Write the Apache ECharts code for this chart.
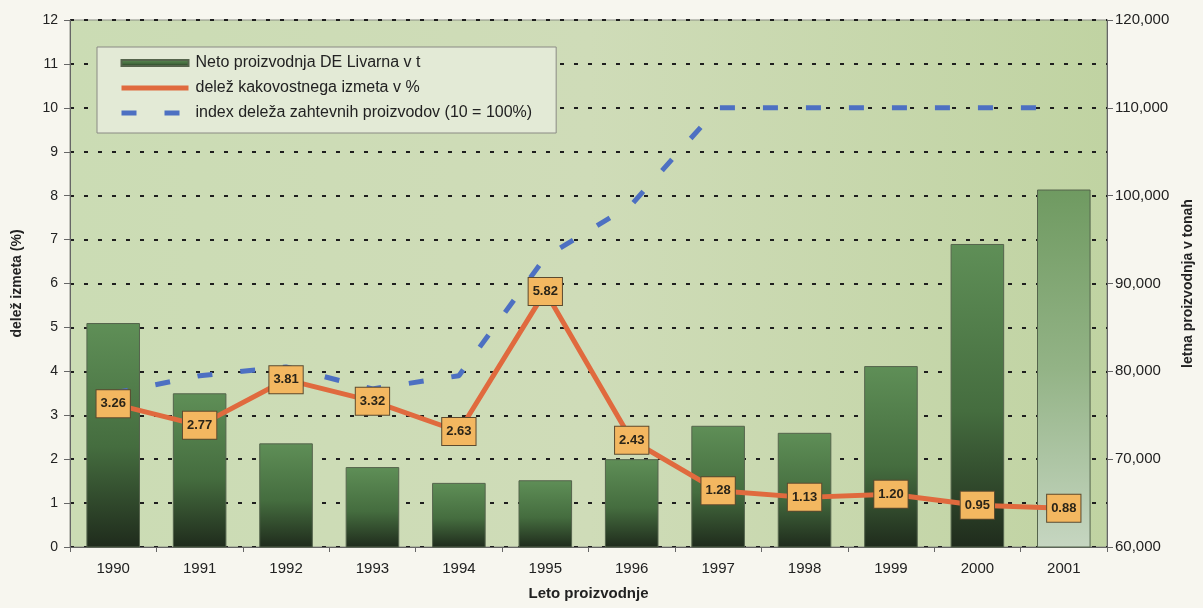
<!DOCTYPE html>
<html>
<head>
<meta charset="utf-8">
<script src="https://cdn.jsdelivr.net/npm/echarts@6/dist/echarts.min.js"></script>
<style>
html,body{margin:0;padding:0;background:#f7f6ef;}
#c{width:1203px;height:608px;}
</style>
</head>
<body>
<div id="c"></div>
<script>
var years = ['1990','1991','1992','1993','1994','1995','1996','1997','1998','1999','2000','2001'];
var production = [85500, 77500, 71800, 69100, 67300, 67600, 70000, 73800, 73000, 80600, 94500, 100700];
var scrapShare = [3.26, 2.77, 3.81, 3.32, 2.63, 5.82, 2.43, 1.28, 1.13, 1.20, 0.95, 0.88];
var demandIndex = [3.5, 3.9, 4.1, 3.6, 3.9, 6.6, 7.8, 10, 10, 10, 10, 10];
var seriesNames = ['Neto proizvodnja DE Livarna v t', 'delež kakovostnega izmeta v %', 'index deleža zahtevnih proizvodov (10 = 100%)'];

var FONT = 'Liberation Sans, Arial, sans-serif';
var barGrad = new echarts.graphic.LinearGradient(0,0,0,1,[
  {offset:0,color:'#5f8f57'},{offset:0.55,color:'#456d3f'},{offset:1,color:'#1f2b1c'}]);
var lastGrad = new echarts.graphic.LinearGradient(0,0,0,1,[
  {offset:0,color:'#6f9a61'},{offset:0.5,color:'#93b386'},{offset:1,color:'#c6d6c1'}]);

var barData = production.map(function(v,i){
  return i === production.length-1 ? {value:v,itemStyle:{color:lastGrad}} : v;
});

var chart = echarts.init(document.getElementById('c'));
chart.setOption({
  backgroundColor:'#f7f6ef',
  textStyle:{fontFamily:FONT},
  grid:{left:70,right:93,top:20,bottom:61,show:true,
    backgroundColor:new echarts.graphic.LinearGradient(0,0,1,0,[
      {offset:0,color:'#cbdcb4'},{offset:0.5,color:'#cfdcb8'},{offset:1,color:'#c0d3a2'}]),
    borderColor:'#8a8f84',borderWidth:1},
  legend:{
    orient:'vertical',left:97,top:47,itemWidth:67,itemHeight:6,itemGap:9,
    padding:[8,24,12,22],zlevel:2,
    backgroundColor:'#e3ead6',borderColor:'#8a8a84',borderWidth:1,
    textStyle:{fontSize:16,color:'#222',fontFamily:FONT,padding:[0,0,0,2]},
    data:[
      {name:seriesNames[0],icon:'rect'},
      {name:seriesNames[1],itemStyle:{opacity:0},lineStyle:{width:5}},
      {name:seriesNames[2],itemStyle:{opacity:0},lineStyle:{width:5}}
    ]
  },
  xAxis:{
    type:'category',data:years,
    name:'Leto proizvodnje',nameLocation:'middle',nameGap:39,
    nameTextStyle:{fontSize:15,fontWeight:'bold',color:'#222'},
    axisLine:{lineStyle:{color:'#666',width:1}},
    axisTick:{show:true,length:5,lineStyle:{color:'#666'}},
    axisLabel:{fontSize:15,color:'#222',margin:14}
  },
  yAxis:[{
    type:'value',min:0,max:12,interval:1,
    name:'delež izmeta (%)',nameLocation:'middle',nameGap:46,
    nameTextStyle:{fontSize:14,fontWeight:'bold',color:'#222'},
    axisLine:{show:true,lineStyle:{color:'#666'}},
    axisTick:{show:true,length:6,lineStyle:{color:'#666'}},
    axisLabel:{fontSize:14,color:'#222',margin:12},
    splitLine:{show:true,lineStyle:{color:'#1e1e1e',width:2,type:[4,10]}}
  },{
    type:'value',min:60000,max:120000,interval:10000,
    name:'letna proizvodnja v tonah',nameLocation:'middle',nameGap:74,
    nameTextStyle:{fontSize:14,fontWeight:'bold',color:'#222'},
    axisLine:{show:true,lineStyle:{color:'#666'}},
    axisTick:{show:true,length:6,lineStyle:{color:'#666'}},
    axisLabel:{fontSize:15,color:'#222',margin:8,
      formatter:function(v){return v.toLocaleString('en-US');}},
    splitLine:{show:false}
  }],
  series:[{
    name:seriesNames[0],type:'bar',yAxisIndex:1,data:barData,
    barWidth:'62%',zlevel:1,z:2,
    itemStyle:{color:barGrad,borderColor:'#55644c',borderWidth:1}
  },{
    name:seriesNames[1],type:'line',yAxisIndex:0,data:scrapShare,
    zlevel:1,z:4,symbol:'circle',symbolSize:1,showSymbol:true,
    itemStyle:{color:'#e06a3e'},
    lineStyle:{color:'#e06a3e',width:5},
    label:{show:true,position:'inside',
      formatter:function(p){return p.value.toFixed(2);},
      backgroundColor:'#f3b760',borderColor:'#5c4a2e',borderWidth:1,
      padding:[8,4,6,4],fontSize:13,fontWeight:'bold',color:'#2a2418',fontFamily:FONT}
  },{
    name:seriesNames[2],type:'line',yAxisIndex:0,data:demandIndex,
    zlevel:1,z:3,symbol:'none',
    itemStyle:{color:'#4d70c2'},
    lineStyle:{color:'#4d70c2',width:5,type:[15,28]}
  }]
});
</script>
</body>
</html>
